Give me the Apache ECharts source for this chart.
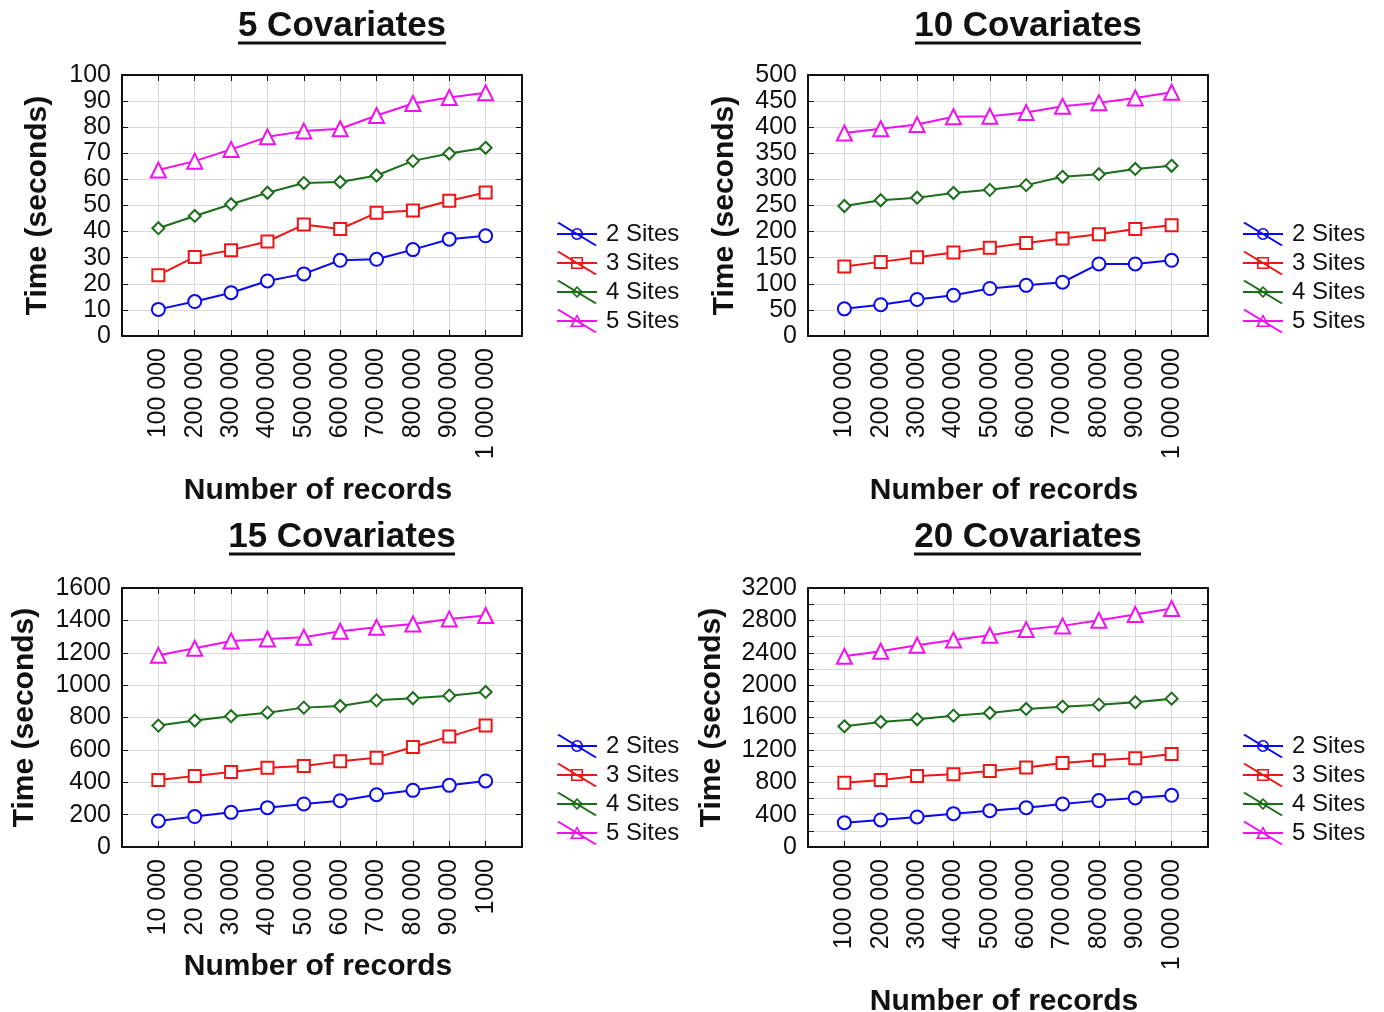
<!DOCTYPE html>
<html><head><meta charset="utf-8">
<script src="https://cdn.jsdelivr.net/npm/echarts@6/dist/echarts.min.js"></script>
<style>html,body{margin:0;padding:0;background:#fff}#c{width:1384px;height:1012px}</style>
</head><body><div id="c"></div>
<script>
// ---------- data ----------
const seriesNames = ['2 Sites', '3 Sites', '4 Sites', '5 Sites'];
const titles = ['5 Covariates', '10 Covariates', '15 Covariates', '20 Covariates'];
const xLabels100k = ['100 000', '200 000', '300 000', '400 000', '500 000', '600 000', '700 000', '800 000', '900 000', '1 000 000'];
const xLabels10k = ['10 000', '20 000', '30 000', '40 000', '50 000', '60 000', '70 000', '80 000', '90 000', '1000'];
const xAxisTitle = 'Number of records';
const yAxisTitle = 'Time (seconds)';

const cov5_2 = [10.2, 13.2, 16.6, 21.1, 23.8, 29.0, 29.4, 33.1, 37.1, 38.4];
const cov5_3 = [23.3, 30.3, 32.9, 36.2, 42.7, 41.0, 47.2, 48.1, 51.8, 55.0];
const cov5_4 = [41.3, 46.0, 50.5, 54.9, 58.6, 59.0, 61.5, 67.1, 69.9, 72.1];
const cov5_5 = [63.6, 67.0, 71.5, 76.3, 78.5, 79.4, 84.5, 89.1, 91.4, 93.2];

const cov10_2 = [52, 60, 70, 78, 91, 97, 103, 138, 138, 145];
const cov10_3 = [133, 142, 151, 160, 169, 178, 187, 195, 205, 212];
const cov10_4 = [249, 260, 265, 274, 280, 289, 305, 310, 320, 326];
const cov10_5 = [389, 397, 405, 420, 421, 428, 440, 447, 456, 467];

const cov15_2 = [161, 188, 214, 243, 266, 286, 323, 350, 381, 408];
const cov15_3 = [414, 439, 464, 490, 501, 529, 552, 618, 682, 750];
const cov15_4 = [750, 781, 808, 830, 861, 871, 906, 919, 935, 958];
const cov15_5 = [1184, 1228, 1273, 1285, 1296, 1333, 1357, 1378, 1409, 1430];

const cov20_2 = [301, 334, 371, 412, 449, 486, 532, 573, 606, 639];
const cov20_3 = [795, 828, 878, 898, 939, 981, 1038, 1071, 1096, 1149];
const cov20_4 = [1491, 1545, 1578, 1623, 1656, 1706, 1734, 1759, 1788, 1833];
const cov20_5 = [2357, 2418, 2493, 2558, 2616, 2686, 2732, 2802, 2872, 2946];

const yMaxes = [100, 500, 1600, 3200];
const ySteps = [10, 50, 200, 400];

// ---------- layout / style ----------
const FONT = "'Liberation Sans', Arial, Helvetica, sans-serif";
const colors = ['#0a0af0', '#f01414', '#1a6e1a', '#f010f0'];
const symbols = ['emptyCircle', 'emptyRect', 'emptyDiamond', 'emptyTriangle'];
const symbolSizes = [13, 12, 12, 15];

// legend icons: horizontal line + diagonal line + hollow marker (40 x 24 box)
const legendBars = 'M0 11 L40 11 L40 13 L0 13 Z M0 1 L2 0 L40 23 L38 24 Z ';
const legendMarkers = [
  'M14 12 A6 6 0 1 1 26 12 A6 6 0 1 1 14 12 Z M15.6 12 A4.4 4.4 0 1 0 24.4 12 A4.4 4.4 0 1 0 15.6 12 Z',
  'M14 6 L26 6 L26 18 L14 18 Z M15.6 7.6 L15.6 16.4 L24.4 16.4 L24.4 7.6 Z',
  'M20 6 L26 12 L20 18 L14 12 Z M20 8.3 L16.3 12 L20 15.7 L23.7 12 Z',
  'M20 5 L27 18 L13 18 Z M20 8.3 L15.7 16.4 L24.3 16.4 Z'
];

const panels = [
  { labels: xLabels100k, data: [cov5_2, cov5_3, cov5_4, cov5_5],
    grid: {left: 122, top: 75, width: 400, height: 261}, xNameGap: 140, yNameGap: 69,
    legend: {left: 552, top: 217}, title: {x: 342, y: 26, u: [238, 446, 43]}, minor: false },
  { labels: xLabels100k, data: [cov10_2, cov10_3, cov10_4, cov10_5],
    grid: {left: 808, top: 75, width: 400, height: 261}, xNameGap: 140, yNameGap: 68,
    legend: {left: 1238, top: 217}, title: {x: 1028, y: 26, u: [915, 1141, 43]}, minor: false },
  { labels: xLabels10k, data: [cov15_2, cov15_3, cov15_4, cov15_5],
    grid: {left: 122, top: 588, width: 400, height: 259}, xNameGap: 105, yNameGap: 82,
    legend: {left: 552, top: 729}, title: {x: 342, y: 537, u: [229, 455, 554]}, minor: false },
  { labels: xLabels100k, data: [cov20_2, cov20_3, cov20_4, cov20_5],
    grid: {left: 808, top: 588, width: 400, height: 259}, xNameGap: 140, yNameGap: 81,
    legend: {left: 1238, top: 729}, title: {x: 1028, y: 537, u: [914, 1141, 554]}, minor: true },
];

const grids = [], xAxes = [], yAxes = [], series = [], legends = [], graphics = [];
const axisLineStyle = {color: '#111', width: 2};
const tickStyle = {show: true, inside: true, length: 6, lineStyle: {color: '#111', width: 1}};
const splitStyle = {show: true, lineStyle: {color: '#d9d9d9', width: 1}};
const minorTickStyle = {show: true, splitNumber: 2, length: 6, lineStyle: {color: '#111', width: 1}};

panels.forEach((p, i) => {
  grids.push(Object.assign({containLabel: false, outerBoundsMode: 'none'}, p.grid));
  const labels = p.labels;
  // bottom x axis
  xAxes.push({
    gridIndex: i, type: 'value', min: 0, max: labels.length + 1, interval: 1, position: 'bottom',
    axisLine: {show: true, onZero: false, lineStyle: axisLineStyle}, axisTick: tickStyle, splitLine: splitStyle,
    axisLabel: {rotate: 90, margin: 12, fontSize: 25, color: '#111', fontFamily: FONT,
      formatter: v => (v >= 1 && v <= labels.length) ? labels[v - 1] : ''},
    name: xAxisTitle, nameLocation: 'middle', nameGap: p.xNameGap,
    nameTextStyle: {fontSize: 30, fontWeight: 'bold', color: '#111', fontFamily: FONT, padding: [0, 8, 0, 0]}
  });
  // top x axis (box)
  xAxes.push({
    gridIndex: i, type: 'value', min: 0, max: labels.length + 1, interval: 1, position: 'top',
    axisLine: {show: true, onZero: false, lineStyle: axisLineStyle}, axisTick: tickStyle,
    splitLine: {show: false}, axisLabel: {show: false}
  });
  const minorCfg = p.minor ? {
    minorTick: minorTickStyle,
    minorSplitLine: {show: true, lineStyle: {color: '#d9d9d9', width: 1}}
  } : {};
  yAxes.push(Object.assign({
    gridIndex: i, type: 'value', min: 0, max: yMaxes[i], interval: ySteps[i], position: 'left',
    axisLine: {show: true, onZero: false, lineStyle: axisLineStyle}, axisTick: tickStyle, splitLine: splitStyle,
    axisLabel: {margin: 11, fontSize: 25, color: '#111', fontFamily: FONT, formatter: v => String(v)},
    name: yAxisTitle, nameLocation: 'middle', nameGap: p.yNameGap,
    nameTextStyle: {fontSize: 30, fontWeight: 'bold', color: '#111', fontFamily: FONT}
  }, minorCfg));
  yAxes.push(Object.assign({
    gridIndex: i, type: 'value', min: 0, max: yMaxes[i], interval: ySteps[i], position: 'right',
    axisLine: {show: true, onZero: false, lineStyle: axisLineStyle}, axisTick: tickStyle,
    splitLine: {show: false}, axisLabel: {show: false}
  }, p.minor ? {minorTick: minorTickStyle} : {}));

  p.data.forEach((vals, s) => {
    series.push({
      type: 'line', name: seriesNames[s], xAxisIndex: i * 2, yAxisIndex: i * 2,
      data: vals.map((v, k) => [k + 1, v]),
      symbol: symbols[s], symbolSize: symbolSizes[s],
      lineStyle: {color: colors[s], width: 2},
      itemStyle: {color: colors[s], borderColor: colors[s], borderWidth: 2},
      animation: false, z: 3 + s
    });
  });

  legends.push({
    orient: 'vertical', left: p.legend.left, top: p.legend.top,
    data: seriesNames.map((n, s) => ({name: n, icon: 'path://' + legendBars + legendMarkers[s]})),
    itemWidth: 40, itemHeight: 24, itemGap: 5,
    itemStyle: {borderWidth: 0},
    textStyle: {fontSize: 24, lineHeight: 24, color: '#111', fontFamily: FONT, padding: [0, 0, 0, 4]},
    selectedMode: false
  });

  graphics.push({
    type: 'text', x: p.title.x, y: p.title.y,
    style: {text: titles[i], font: "bold 35px " + FONT, fill: '#111', align: 'center', verticalAlign: 'middle'}
  });
  graphics.push({
    type: 'line', shape: {x1: p.title.u[0], y1: p.title.u[2], x2: p.title.u[1], y2: p.title.u[2]},
    style: {stroke: '#111', lineWidth: 3}
  });
});

const chart = echarts.init(document.getElementById('c'), null, {renderer: 'canvas'});
chart.setOption({
  backgroundColor: '#fff',
  animation: false,
  grid: grids, xAxis: xAxes, yAxis: yAxes, series: series, legend: legends,
  graphic: graphics
});
</script></body></html>
